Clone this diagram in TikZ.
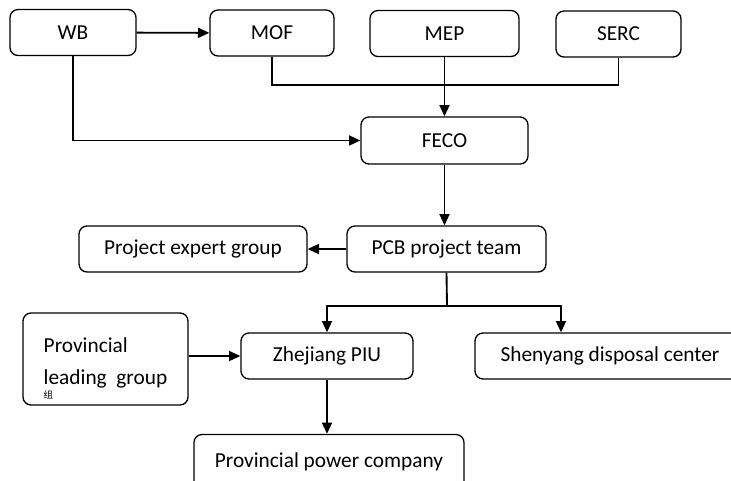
\documentclass[tikz,border=0pt]{standalone}
\usepackage{fontspec}
\setmainfont{Carlito}
\newfontfamily\cjkfont{Noto Sans CJK SC}
\usetikzlibrary{arrows.meta, positioning}

\begin{document}
\begin{tikzpicture}[x=0.75pt, y=-0.75pt, >={Triangle[length=8.5pt,width=7.5pt]},
    box/.style={draw, line width=1pt, rounded corners=6pt, inner sep=0pt,
                font=\fontsize{16}{19}\selectfont},
    conn/.style={line width=1.4pt}]
    \useasboundingbox (0,0) rectangle (731,480);
    \clip (0,0) rectangle (731,480);

    % Top row
    \node[box, minimum width=94.5pt, minimum height=34.5pt] (WB) at (73,32.5) {WB};
    \node[box, minimum width=93pt, minimum height=34.5pt] (MOF) at (272,33) {MOF};
    \node[box, minimum width=111.75pt, minimum height=34.5pt] (MEP) at (444.5,33.5) {MEP};
    \node[box, minimum width=93.75pt, minimum height=34.5pt] (SERC) at (618.5,34) {SERC};

    % Middle
    \node[box, minimum width=125.25pt, minimum height=35.25pt] (FECO) at (444.5,140.5) {FECO};
    \node[box, minimum width=149.25pt, minimum height=34.5pt] (PCB) at (446.5,249) {PCB project team};
    \node[box, minimum width=171pt, minimum height=34.5pt] (EXP) at (193,249) {Project expert group};

    % Bottom
    \node[box, minimum width=123.75pt, minimum height=69pt, align=left] (LG) at (105.5,359)
        {\rule{0pt}{25pt}Provincial\\[5pt]leading~~group\\[-8pt]{\cjkfont\fontsize{7}{8}\selectfont 组}};
    \node[box, minimum width=129pt, minimum height=34.5pt] (PIU) at (327,356) {Zhejiang PIU};
    \node[box, minimum width=202.5pt, minimum height=34.5pt] (SDC) at (610,356) {Shenyang disposal center};
    \node[box, minimum width=202.5pt, minimum height=41.25pt] (PPC) at (329,462) {Provincial power company};

    % Connectors
    \coordinate (J1) at (444.5,85);
    \coordinate (J2) at (447,306);
    \draw[conn,->] (WB) -- (MOF);
    \draw[conn,->] (WB.south) |- (FECO.west);
    \draw[line width=1pt] (MOF.south) |- (J1) -| (SERC.south);
    \draw[conn,->] (MEP) -- (FECO);
    \draw[conn,->] (FECO.south) -- (FECO.south |- PCB.north);
    \draw[conn,->] (PCB) -- (EXP);
    \draw[conn] (PCB.south) -- (J2);
    \draw[conn,->] (J2) -| (PIU.north);
    \draw[conn,->] (J2) -| ([xshift=-36.75pt]SDC.north);
    \draw[conn,->] (LG.east |- PIU.west) -- (PIU.west);
    \draw[conn,->] (PIU.south) -- (PIU.south |- PPC.north);
\end{tikzpicture}
\end{document}
